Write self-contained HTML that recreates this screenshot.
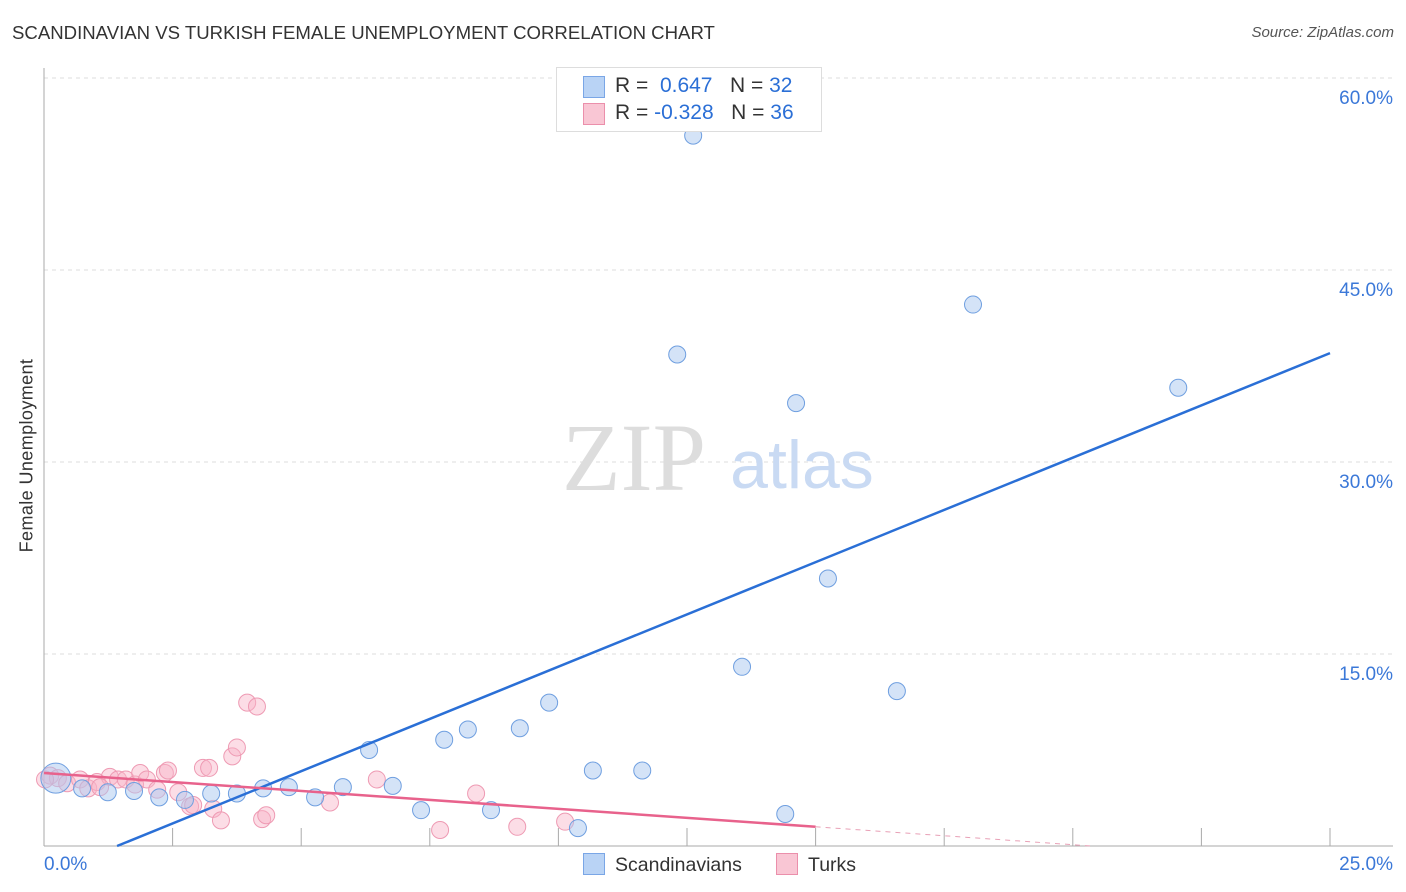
<!DOCTYPE html>
<html><head><meta charset="utf-8">
<style>
body{margin:0;background:#fff;font-family:"Liberation Sans",sans-serif;}
#wrap{position:relative;width:1406px;height:892px;overflow:hidden;}
.t{position:absolute;white-space:nowrap;}
</style></head>
<body>
<div id="wrap">
<div class="t" style="left:12px;top:22px;font-size:18.6px;color:#333;">SCANDINAVIAN VS TURKISH FEMALE UNEMPLOYMENT CORRELATION CHART</div>
<div class="t" style="right:12px;top:24px;font-size:15px;color:#555;font-style:italic;">Source: ZipAtlas.com</div>
<div class="t" style="left:-73px;top:445px;font-size:18px;color:#333;transform:rotate(-90deg);width:200px;text-align:center;letter-spacing:0.4px;">Female Unemployment</div>
<svg id="svg" width="1406" height="892" style="position:absolute;left:0;top:0"></svg>
<div class="t" style="left:556px;top:67px;width:264px;height:63px;border:1px solid #ddd;background:#fff;font-size:21px;color:#333;">
  <div style="position:absolute;left:26px;top:8px;width:20px;height:20px;background:#b9d3f5;border:1px solid #7aa6e6;"></div>
  <div class="t" style="left:58px;top:6px;">R = &nbsp;<span style="color:#2b6fd6">0.647</span> &nbsp;&nbsp;N = <span style="color:#2b6fd6">32</span></div>
  <div style="position:absolute;left:26px;top:35px;width:20px;height:20px;background:#f9c6d4;border:1px solid #eb8fab;"></div>
  <div class="t" style="left:58px;top:33px;">R = <span style="color:#2b6fd6">-0.328</span> &nbsp;&nbsp;N = <span style="color:#2b6fd6">36</span></div>
</div>
<div class="t" style="left:583px;top:853px;font-size:19.5px;color:#333;"><span style="display:inline-block;width:20px;height:20px;background:#b9d3f5;border:1px solid #7aa6e6;vertical-align:-4px;margin-right:10px"></span>Scandinavians</div>
<div class="t" style="left:776px;top:853px;font-size:19.5px;color:#333;"><span style="display:inline-block;width:20px;height:20px;background:#f9c6d4;border:1px solid #eb8fab;vertical-align:-4px;margin-right:10px"></span>Turks</div>
</div>
<script>
const xTicks=[0,2.5,5,7.5,10,12.5,15,17.5,20,22.5,25];
const yTicks=[15,30,45,60];
const yTickLabels=["15.0%","30.0%","45.0%","60.0%"];
const blueX=[0.23,0.74,1.24,1.75,2.24,2.74,3.25,3.75,4.26,4.76,5.27,5.81,6.32,6.78,7.33,7.78,8.24,8.69,9.25,9.82,10.38,10.67,11.63,12.62,12.31,13.57,14.41,14.62,15.24,16.58,18.06,22.05];
const blueY=[5.3,4.5,4.2,4.3,3.8,3.6,4.1,4.1,4.5,4.6,3.8,4.6,7.5,4.7,2.8,8.3,9.1,2.8,9.2,11.2,1.4,5.9,5.9,55.5,38.4,14.0,2.5,34.6,20.9,12.1,42.3,35.8];
const pinkX=[0.12,0.27,0.45,0.70,0.86,1.03,1.28,1.44,1.59,1.77,1.87,2.00,2.20,2.35,2.41,2.61,2.84,2.90,3.09,3.21,3.29,3.44,3.66,3.75,3.95,4.14,4.24,4.32,5.56,6.47,7.70,8.40,9.20,10.13,1.09,0.02];
const pinkY=[5.5,5.3,4.9,5.2,4.5,5.0,5.4,5.2,5.2,4.8,5.7,5.2,4.4,5.7,5.9,4.2,3.1,3.2,6.1,6.1,2.9,2.0,7.0,7.7,11.2,10.9,2.1,2.4,3.4,5.2,1.25,4.1,1.5,1.9,4.6,5.2];
const blueTrend=[-2.32,1.633];
const pinkTrend=[5.7,-0.28];
const X=v=>44+v/25*1286, Y=v=>846-v*12.8;
const svg=document.getElementById('svg');const NS='http://www.w3.org/2000/svg';
function mk(t,a){const e=document.createElementNS(NS,t);for(const k in a)e.setAttribute(k,a[k]);svg.appendChild(e);return e;}
yTicks.forEach((v,i)=>{
 const g=mk('line',{x1:44,x2:1393,y1:Y(v),y2:Y(v),stroke:'#ddd','stroke-dasharray':'4,4'});
 
 
 const t=mk('text',{x:1393,y:Y(v)+26,'text-anchor':'end','font-size':19,fill:'#3b78d8','font-family':'Liberation Sans, sans-serif'});
 t.textContent=yTickLabels[i];
 
 
});
const ax=mk('line',{x1:44,x2:44,y1:68,y2:846,stroke:'#aaa'});


const bx=mk('line',{x1:44,x2:1393,y1:846,y2:846,stroke:'#aaa'});


xTicks.slice(1).forEach(v=>{const l=mk('line',{x1:X(v),x2:X(v),y1:828,y2:846,stroke:'#aaa'});
 
 });
[['0.0%',44,'start'],['25.0%',1393,'end']].forEach(a=>{const t=mk('text',{x:a[1],y:870,'text-anchor':a[2],'font-size':19,fill:'#3b78d8','font-family':'Liberation Sans, sans-serif'});t.textContent=a[0];
 
 });
const w1=mk('text',{x:634,y:490,'text-anchor':'middle','font-size':96,fill:'#ddd','font-family':'Liberation Serif, serif'});w1.textContent='ZIP';


const w2=mk('text',{x:802,y:488,'text-anchor':'middle','font-size':68,fill:'#c9daf3','font-family':'Liberation Sans, sans-serif'});w2.textContent='atlas';


pinkX.forEach((x,i)=>{const c=mk('circle',{cx:X(x),cy:Y(pinkY[i]),r:8.5,fill:'rgba(248,180,200,0.45)',stroke:'#ee9ab3','stroke-width':1});
 
 });
blueX.forEach((x,i)=>{const c=mk('circle',{cx:X(x),cy:Y(blueY[i]),r:i===0?15:8.5,fill:'rgba(170,200,240,0.5)',stroke:'#6f9fe0','stroke-width':1});
 
 });
const bx0=-blueTrend[0]/blueTrend[1];
const bl=mk('line',{x1:X(bx0),y1:Y(0),x2:X(25),y2:Y(blueTrend[0]+blueTrend[1]*25),stroke:'#2a6fd6','stroke-width':2.5});


const pl=mk('line',{x1:X(0),y1:Y(pinkTrend[0]),x2:X(15),y2:Y(pinkTrend[0]+pinkTrend[1]*15),stroke:'#e8628c','stroke-width':2.5});


const pxe=-pinkTrend[0]/pinkTrend[1];
const pd=mk('line',{x1:X(15),y1:Y(pinkTrend[0]+pinkTrend[1]*15),x2:X(pxe),y2:Y(0),stroke:'#e8a0b6','stroke-width':1,'stroke-dasharray':'5,5'});


</script>
</body></html>
